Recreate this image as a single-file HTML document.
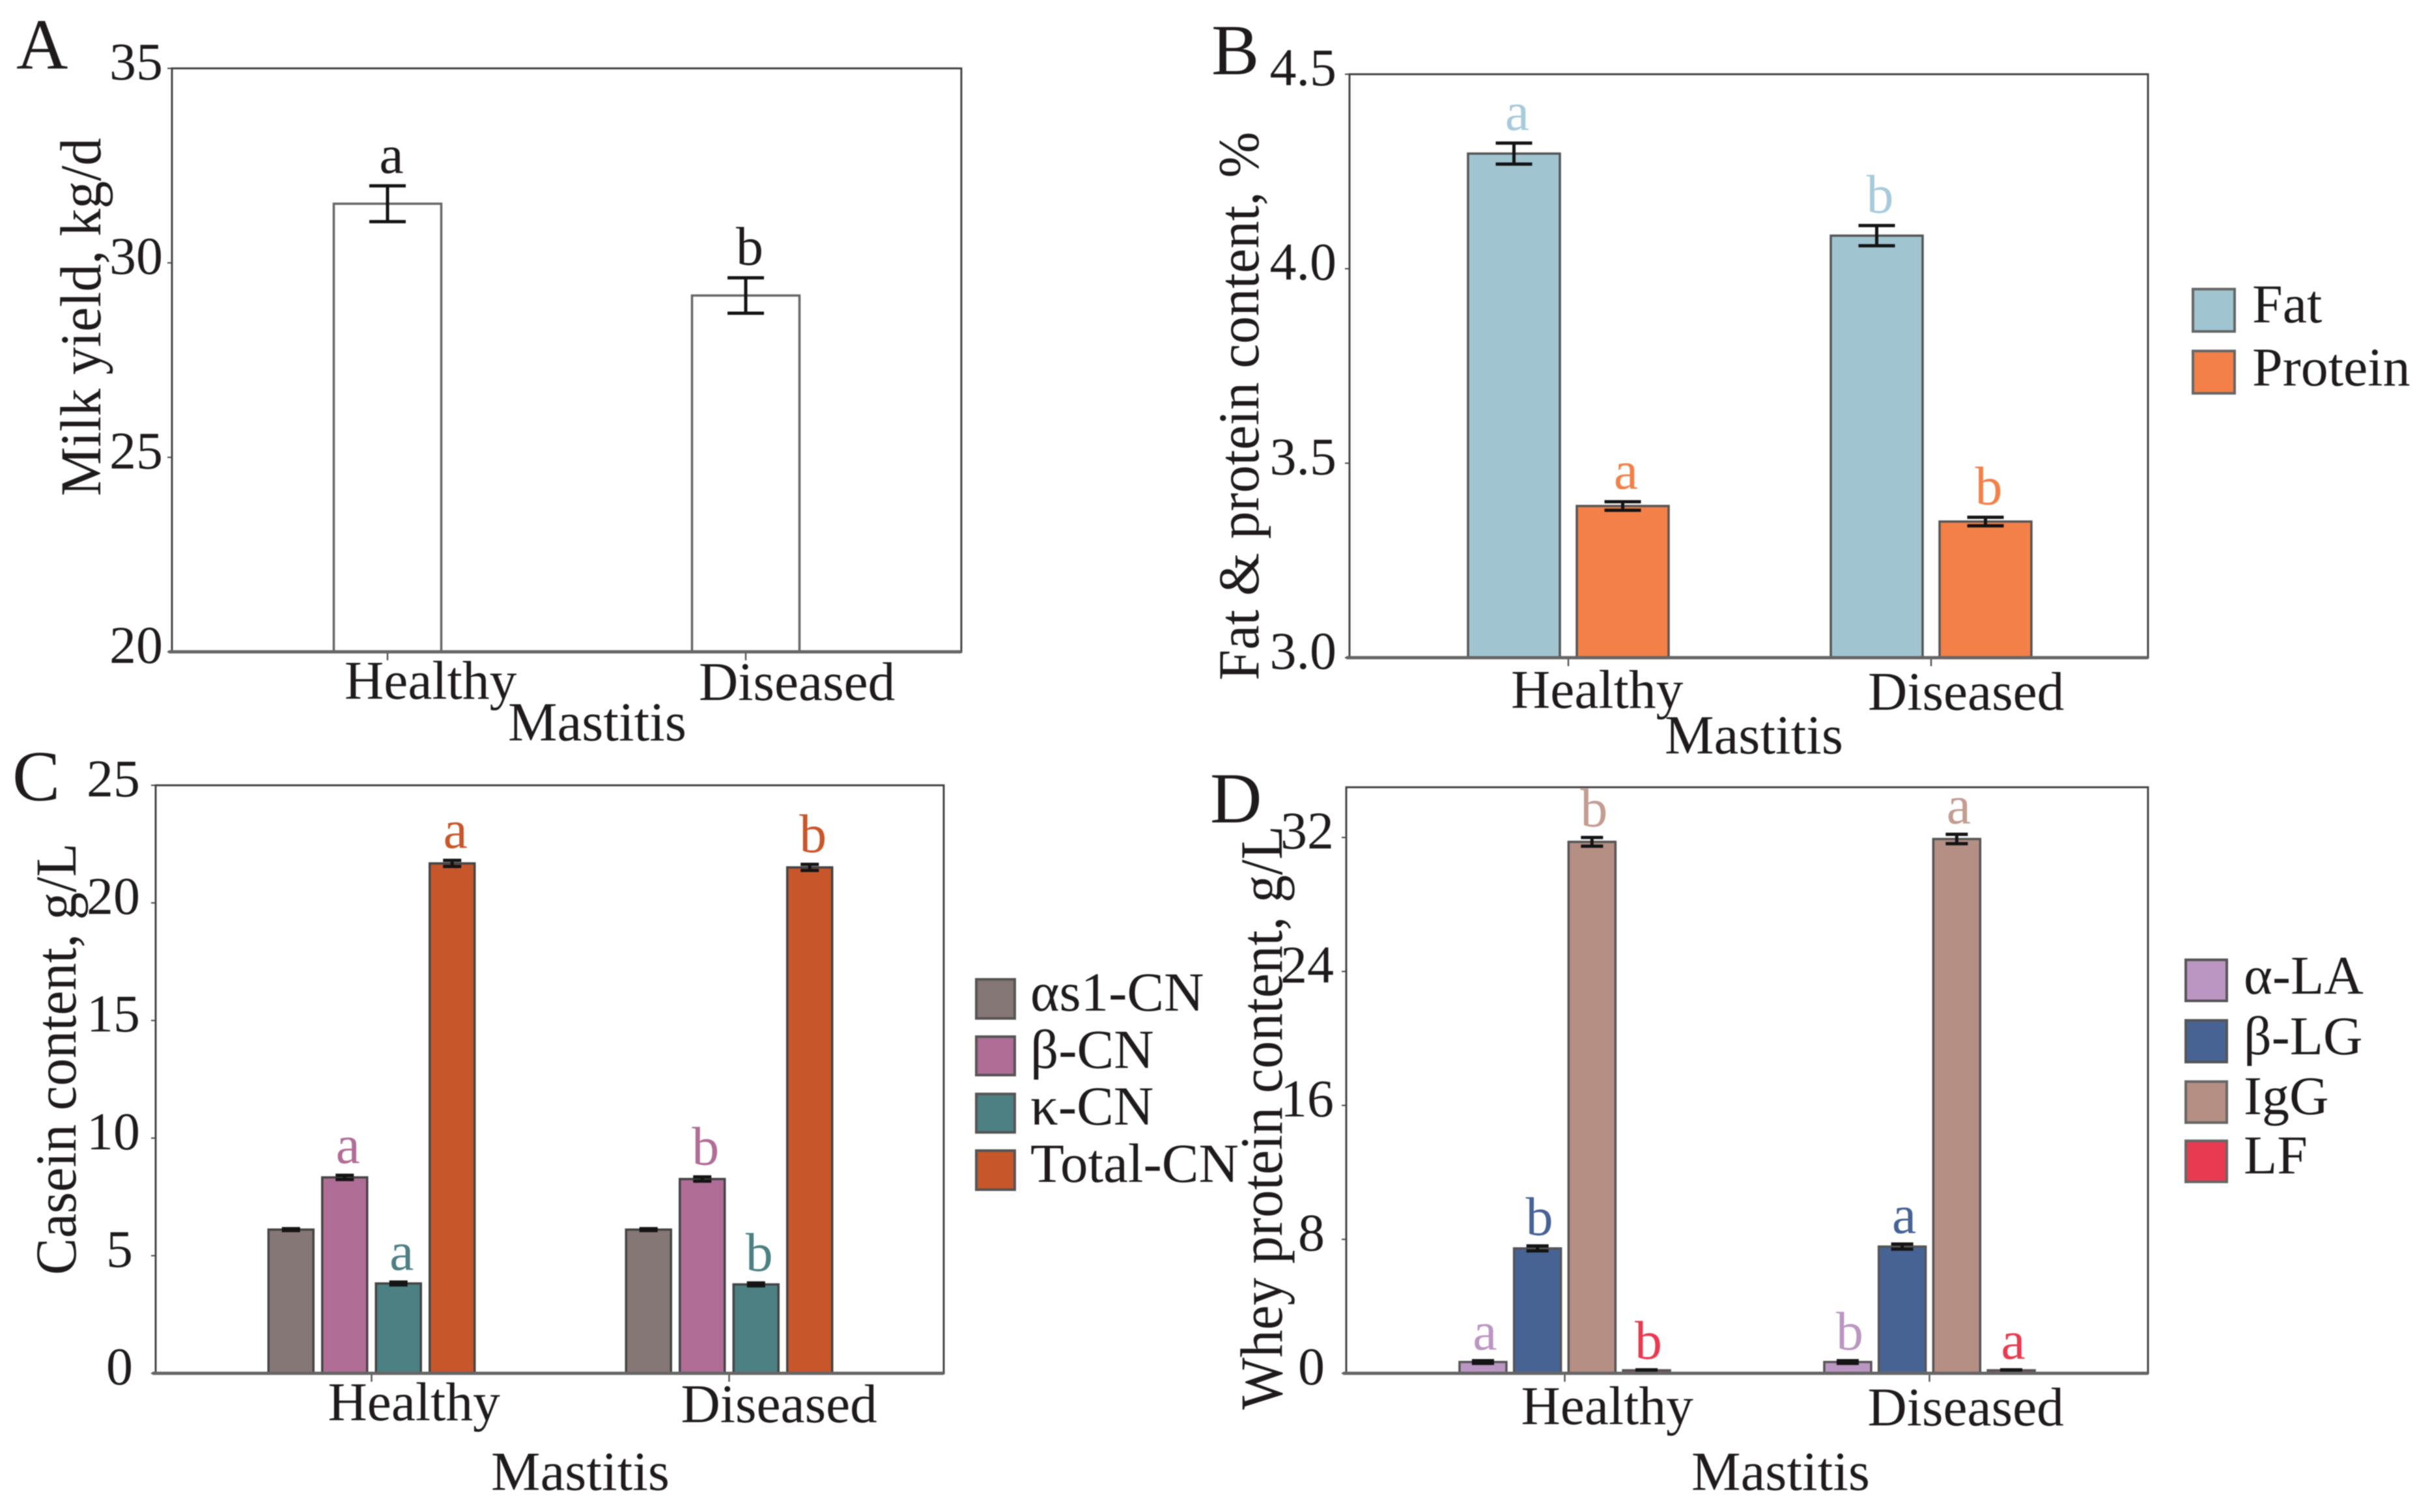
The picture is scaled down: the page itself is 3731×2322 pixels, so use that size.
<!DOCTYPE html>
<html>
<head>
<meta charset="utf-8">
<title>Milk yield and composition by mastitis status</title>
<style>
html,body{margin:0;padding:0;background:#fff;}
svg{display:block;filter:blur(0.8px);}
text{font-family:"Liberation Serif","Times New Roman",serif;font-size:84px;fill:#1f1b1c;}
.letter{font-size:110px;}
.ytitle{font-size:85px;}
.tick{font-size:82px;}
.wide{font-size:85px;}
.cat{font-size:83.5px;}
</style>
</head>
<body>
<svg id="figure" xmlns="http://www.w3.org/2000/svg" width="3731" height="2322" viewBox="0 0 3731 2322">
  <rect x="0" y="0" width="3731" height="2322" fill="#ffffff"/>

  <text class="letter" x="25" y="105">A</text>
  <text class="letter" x="1860" y="114">B</text>
  <text class="letter" x="19" y="1229">C</text>
  <text class="letter" x="1858" y="1263">D</text>

  <text class="ytitle" transform="translate(154,762) rotate(-90) scale(1,1.05)">Milk yield, kg/d</text>
  <text class="ytitle" transform="translate(1932,1045) rotate(-90) scale(1,1.05)">Fat &amp; protein content, %</text>
  <text class="ytitle" transform="translate(116,1958) rotate(-90) scale(1,1.05)">Casein content, g/L</text>
  <text class="ytitle" transform="translate(1968,2165) rotate(-90) scale(1,1.08)">Whey protein content, g/L</text>

  <text class="wide" x="780" y="1137">Mastitis</text>
  <text class="wide" x="2556" y="1157">Mastitis</text>
  <text class="wide" x="754" y="2288">Mastitis</text>
  <text class="wide" x="2597" y="2288">Mastitis</text>

  <g>
    <rect x="3367" y="444" width="64" height="65" fill="#a1c4d1" stroke="#666" stroke-width="4"/>
    <text x="3458" y="495">Fat</text>
    <rect x="3367" y="539" width="64" height="65" fill="#f28048" stroke="#666" stroke-width="4"/>
    <text x="3458" y="592">Protein</text>
  </g>

  <g>
    <rect x="1499" y="1504" width="59" height="60" fill="#857775" stroke="#555" stroke-width="4"/>
    <text class="wide" x="1582" y="1552">αs1-CN</text>
    <rect x="1499" y="1592" width="59" height="59" fill="#b06d96" stroke="#555" stroke-width="4"/>
    <text class="wide" x="1582" y="1640">β-CN</text>
    <rect x="1499" y="1680" width="59" height="59" fill="#4d8082" stroke="#555" stroke-width="4"/>
    <text class="wide" x="1582" y="1727">κ-CN</text>
    <rect x="1499" y="1767" width="59" height="60" fill="#c7572b" stroke="#555" stroke-width="4"/>
    <text class="wide" x="1582" y="1815">Total-CN</text>
  </g>

  <g>
    <rect x="3356" y="1474" width="63" height="63" fill="#bc96c2" stroke="#555" stroke-width="4"/>
    <text x="3445" y="1526">α-LA</text>
    <rect x="3356" y="1567" width="63" height="64" fill="#466394" stroke="#555" stroke-width="4"/>
    <text x="3445" y="1619">β-LG</text>
    <rect x="3356" y="1661" width="63" height="63" fill="#b58e84" stroke="#666" stroke-width="4"/>
    <text x="3445" y="1711">IgG</text>
    <rect x="3356" y="1752" width="63" height="63" fill="#e83a50" stroke="#666" stroke-width="4"/>
    <text x="3445" y="1802">LF</text>
  </g>
</svg>

<script>
// Shared categories
const categories = ['Healthy', 'Diseased'];

// Panel A: milk yield
const panelATicks = ['20', '25', '30', '35'];
const panelASeries = ['Milk yield'];
const panelAValues = [[31.52, 29.16]];
const panelAErrors = [[0.46, 0.455]];
const panelASig = [['a', 'b']];

// Panel B: fat and protein
const panelBTicks = ['3.0', '3.5', '4.0', '4.5'];
const panelBSeries = ['Fat', 'Protein'];
const panelBFat = [4.296, 4.085];
const panelBProtein = [3.39, 3.35];
const panelBFatErrors = [0.027, 0.026];
const panelBProteinErrors = [0.011, 0.011];
const panelBSig = [['a', 'b'], ['a', 'b']];

// Panel C: casein
const panelCTicks = ['0', '5', '10', '15', '20', '25'];
const panelCSeries = ['as1-CN', 'b-CN', 'k-CN', 'Total-CN'];
const panelCAs1 = [6.11, 6.11];
const panelCBeta = [8.33, 8.26];
const panelCKappa = [3.82, 3.78];
const panelCTotal = [21.68, 21.51];
const panelCAs1Errors = [0.04, 0.04];
const panelCBetaErrors = [0.09, 0.09];
const panelCKappaErrors = [0.06, 0.06];
const panelCTotalErrors = [0.13, 0.13];
const panelCSig = [['', ''], ['a', 'b'], ['a', 'b'], ['a', 'b']];

// Panel D: whey protein
const panelDTicks = ['0', '8', '16', '24', '32'];
const panelDSeries = ['a-LA', 'b-LG', 'IgG', 'LF'];
const panelDAlpha = [0.675, 0.675];
const panelDBeta = [7.46, 7.57];
const panelDIgG = [31.74, 31.91];
const panelDLF = [0.18, 0.18];
const panelDAlphaErrors = [0.08, 0.08];
const panelDBetaErrors = [0.15, 0.15];
const panelDIgGErrors = [0.26, 0.28];
const panelDLFErrors = [0.03, 0.03];
const panelDSig = [['a', 'b'], ['b', 'a'], ['b', 'a'], ['b', 'a']];

const SVGNS = 'http://www.w3.org/2000/svg';
const figure = document.getElementById('figure');

function make(tag, attrs, parent) {
  const el = document.createElementNS(SVGNS, tag);
  for (const k in attrs) el.setAttribute(k, attrs[k]);
  parent.appendChild(el);
  return el;
}

function drawPanel(id, o) {
  const yDomainMin = o.domain[0];
  const yDomainMax = o.domain[1];
  const yScale = v => o.bottom - (v - yDomainMin) / (yDomainMax - yDomainMin) * (o.bottom - o.top);
  const groupX = g => o.firstGroup + g * o.groupStep;
  const barCenter = (g, s) => groupX(g) + (s - (o.series.length - 1) / 2) * o.barStep;

  const panel = make('g', {}, figure);
  
  

  const frame = make('rect', {x: o.left, y: o.top, width: o.right - o.left, height: o.bottom - o.top, fill: 'none', stroke: '#444', 'stroke-width': 3}, panel);
  
  

  o.ticks.forEach(label => {
    const y = yScale(Number(label));
    const tick = make('line', {x1: o.left - 7, x2: o.left, y1: y, y2: y, stroke: '#444', 'stroke-width': 2}, panel);
    
    
    const shift = (label.length < 2) ? o.singleDigitShift : 0;
    const text = make('text', {x: o.tickLabelRight + shift, y: y + 17, 'text-anchor': 'end', 'class': 'tick'}, panel);
    text.textContent = label;
    
    
  });

  categories.forEach((cat, g) => {
    const x = groupX(g);
    const tick = make('line', {x1: x, x2: x, y1: o.bottom, y2: o.bottom + 13, stroke: '#555', 'stroke-width': 2.5}, panel);
    
    
    const text = make('text', {x: x + o.labelDx[g], y: o.labelY[g], 'class': 'cat'}, panel);
    text.textContent = cat;
    
    
  });

  o.series.forEach((name, s) => {
    categories.forEach((cat, g) => {
      const value = o.values[s][g];
      const err = o.errors[s][g];
      const cx = barCenter(g, s);
      const yTop = yScale(value);
      const bar = make('rect', {x: cx - o.barWidth / 2, y: yTop, width: o.barWidth, height: o.bottom - yTop, fill: o.colors[s], stroke: o.barStroke, 'stroke-width': 3.5}, panel);
      
      

      const yHi = yScale(value + err);
      const yLo = yScale(value - err);
      const whisker = make('path', {
        d: 'M' + (cx - o.cap) + ' ' + yHi + 'H' + (cx + o.cap) + 'M' + cx + ' ' + yHi + 'V' + yLo + 'M' + (cx - o.cap) + ' ' + yLo + 'H' + (cx + o.cap),
        fill: 'none', stroke: '#141414', 'stroke-width': 5
      }, panel);
      
      

      const sig = o.sig[s][g];
      if (sig) {
        const mark = make('text', {x: cx + o.sigDx, y: yHi - o.sigGap, 'text-anchor': 'middle', style: 'fill:' + o.sigColors[s]}, panel);
        mark.textContent = sig;
        
        
      }
    });
  });

  const axis = make('line', {x1: o.left - 5, x2: o.right, y1: o.bottom, y2: o.bottom, stroke: '#666', 'stroke-width': 5}, panel);
  
  
}

drawPanel('a', {
  left: 264, right: 1476, top: 105, bottom: 1001, domain: [20, 35],
  ticks: panelATicks, series: panelASeries, values: panelAValues, errors: panelAErrors, sig: panelASig,
  colors: ['#ffffff'], sigColors: ['#1f1b1c'], barStroke: '#666',
  firstGroup: 595, groupStep: 550, barStep: 0, barWidth: 165, cap: 28, sigDx: 6, sigGap: 20,
  tickLabelRight: 250, singleDigitShift: 0, labelDx: [-66, -72], labelY: [1073, 1075]
});

drawPanel('b', {
  left: 2072, right: 3298, top: 114, bottom: 1010, domain: [3, 4.5],
  ticks: panelBTicks, series: panelBSeries,
  values: [panelBFat, panelBProtein], errors: [panelBFatErrors, panelBProteinErrors], sig: panelBSig,
  colors: ['#a1c4d1', '#f28048'], sigColors: ['#a8cbdc', '#f28048'], barStroke: '#555',
  firstGroup: 2408, groupStep: 557, barStep: 167, barWidth: 141, cap: 28, sigDx: 5, sigGap: 20,
  tickLabelRight: 2052, singleDigitShift: 0, labelDx: [-88, -97], labelY: [1087, 1090]
});

drawPanel('c', {
  left: 239, right: 1449, top: 1206, bottom: 2109, domain: [0, 25],
  ticks: panelCTicks, series: panelCSeries,
  values: [panelCAs1, panelCBeta, panelCKappa, panelCTotal],
  errors: [panelCAs1Errors, panelCBetaErrors, panelCKappaErrors, panelCTotalErrors], sig: panelCSig,
  colors: ['#857775', '#b06d96', '#4d8082', '#c7572b'], sigColors: ['#857775', '#b06d96', '#4d8082', '#c7572b'], barStroke: '#444',
  firstGroup: 570.5, groupStep: 549, barStep: 82.5, barWidth: 69, cap: 14, sigDx: 5, sigGap: 19,
  tickLabelRight: 215, singleDigitShift: -11, labelDx: [-67, -74], labelY: [2181, 2184]
});

drawPanel('d', {
  left: 2067, right: 3298, top: 1209, bottom: 2109, domain: [0, 35],
  ticks: panelDTicks, series: panelDSeries,
  values: [panelDAlpha, panelDBeta, panelDIgG, panelDLF],
  errors: [panelDAlphaErrors, panelDBetaErrors, panelDIgGErrors, panelDLFErrors], sig: panelDSig,
  colors: ['#bc96c2', '#466394', '#b58e84', '#e83a50'], sigColors: ['#bc96c2', '#466394', '#c39c92', '#e83a50'], barStroke: '#555',
  firstGroup: 2402.5, groupStep: 560, barStep: 83.7, barWidth: 72, cap: 17, sigDx: 3, sigGap: 17,
  tickLabelRight: 2048, singleDigitShift: -14, labelDx: [-67, -95], labelY: [2187, 2189]
});
</script>
</body>
</html>
